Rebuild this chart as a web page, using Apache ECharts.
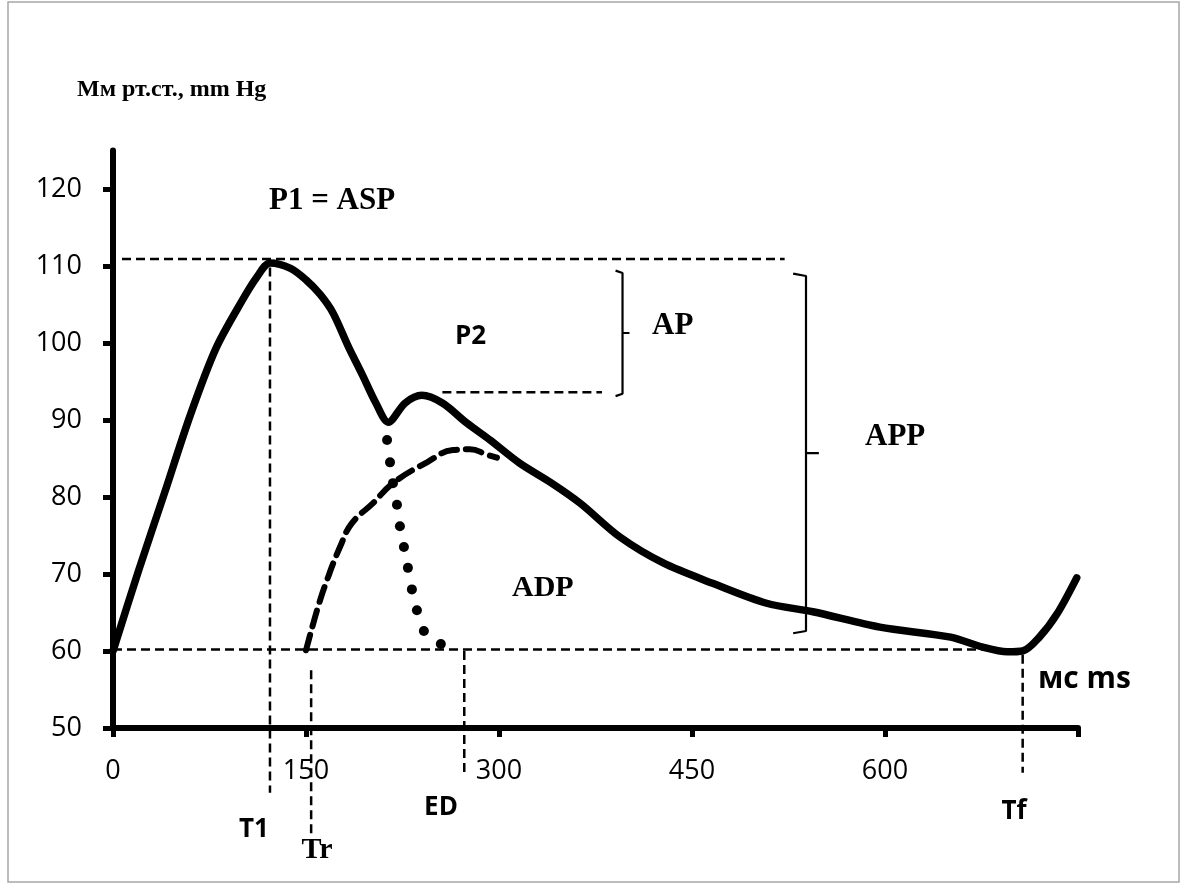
<!DOCTYPE html>
<html>
<head>
<meta charset="utf-8">
<script src="https://cdn.jsdelivr.net/npm/echarts@6/dist/echarts.min.js"></script>
<style>
  html, body { margin: 0; padding: 0; background: #fff; }
  #chart { width: 1187px; height: 888px; }
</style>
</head>
<body>
<div id="chart"></div>
<script>
// Aortic pressure waveform, time in ms, pressure in mm Hg
const pulseTime     = [0, 20, 40, 60, 80, 100, 112, 122, 138, 150, 161, 171, 183, 194, 204, 214, 227, 240, 256, 275, 293, 316, 340, 363, 394, 428, 466, 508, 544, 596, 651, 676, 695, 707, 720, 734, 749];
const pulsePressure = [60, 70.5, 80.5, 90.6, 99.3, 105.4, 108.6, 110.4, 109.7, 108.2, 106.3, 103.9, 99.5, 95.8, 92.3, 89.7, 92.2, 93.2, 92.2, 89.6, 87.4, 84.4, 81.9, 79.2, 74.8, 71.4, 68.8, 66.2, 65.1, 63.1, 61.8, 60.5, 59.9, 60, 61.8, 64.9, 69.5];

// Reflected (late) wave component
const reflectedTime     = [150, 159.3, 166.3, 176.4, 185.7, 202.1, 217.6, 244, 264.2, 277.5, 290.7, 298.4];
const reflectedPressure = [60.1, 65.7, 69.2, 73.5, 76.6, 79.2, 81.8, 84.5, 86.1, 86.2, 85.5, 85.1];

// Incident wave decay after the inflection point
const incidentTime     = [213, 215.3, 217.6, 220.7, 223, 226.1, 229.2, 232.3, 236.2, 241.6, 254.8];
const incidentPressure = [87.4, 84.5, 81.8, 79, 76.2, 73.5, 70.8, 68, 65.3, 62.6, 60.9];

// Axis ticks and labels
const xTickValues  = [0, 150, 300, 450, 600, 750];
const xLabelValues = [0, 150, 300, 450, 600];
const yTickValues  = [50, 60, 70, 80, 90, 100, 110, 120];

// Characteristic time points: T1, Tr, ED, Tf  [time, upper pressure, lower pressure]
const timeMarkers = [
  [122, 109.8, 41.6],
  [154, 57.5, 35.7],
  [273, 60, 43.8],
  [707, 59.5, 44.2]
];

// Horizontal guide levels [pressure, from time, to time]
const levelGuides = [
  [110.9, 7, 522],
  [93.6, 256, 380],
  [60.2, 0, 678]
];

// Pressure brackets [time, top, middle, bottom, hook length]
const brackets = [
  [396, 109.4, 101.3, 93.1, 5.4],
  [538.6, 109, 85.7, 62.3, 10]
];

const pairs = (xs, ys) => xs.map((x, i) => [x, ys[i]]);

const dashStyle = { color: '#000', width: 2.5, type: [9, 5] };

const series = [];

levelGuides.forEach(g => {
  series.push({
    type: 'line', data: [[g[1], g[0]], [g[2], g[0]]],
    symbol: 'none', silent: true, clip: false, z: 2,
    lineStyle: dashStyle
  });
});

timeMarkers.forEach(m => {
  series.push({
    type: 'line', data: [[m[0], m[1]], [m[0], m[2]]],
    symbol: 'none', silent: true, clip: false, z: 2,
    lineStyle: dashStyle
  });
});

brackets.forEach(b => {
  const [t, top, mid, bot, h] = b;
  series.push({
    type: 'line',
    data: [[t - h, top], [t, top - 0.3], [t, mid], [t + h, mid], [t, mid], [t, bot + 0.3], [t - h, bot]],
    symbol: 'none', silent: true, clip: false, z: 2,
    lineStyle: { color: '#000', width: 2.2 }
  });
});

series.push({
  type: 'line', data: pairs(reflectedTime, reflectedPressure),
  smooth: 0.45, symbol: 'none', silent: true, z: 3,
  lineStyle: { color: '#000', width: 6, type: [16, 9], cap: 'round' }
});

series.push({
  type: 'scatter', data: pairs(incidentTime, incidentPressure),
  symbol: 'circle', symbolSize: 10, silent: true, z: 3,
  itemStyle: { color: '#000', opacity: 1 }
});

series.push({
  type: 'line', data: pairs(pulseTime, pulsePressure),
  smooth: 0.3, symbol: 'none', silent: true, z: 5,
  lineStyle: { color: '#000', width: 7.5, cap: 'round', join: 'round' }
});

const sans = '"Open Sans", "DejaVu Sans", sans-serif';
const serif = '"Liberation Serif", "DejaVu Serif", serif';

function label(text, x, y, font, align) {
  return {
    type: 'text', x: x, y: y, silent: true, z: 10,
    style: {
      text: text, font: font, fill: '#000',
      align: align || 'left', verticalAlign: 'middle',
      textAlign: align || 'left', textVerticalAlign: 'middle'
    }
  };
}

const chart = echarts.init(document.getElementById('chart'), null, { renderer: 'canvas' });
chart.setOption({
  animation: false,
  backgroundColor: '#fff',
  grid: { left: 113, right: 109, top: 150.5, bottom: 160, containLabel: false },
  xAxis: {
    type: 'value', min: 0, max: 750, interval: 150,
    axisLine: { show: true, lineStyle: { color: '#000', width: 6 } },
    axisTick: { show: true, length: 9, customValues: xTickValues, lineStyle: { color: '#000', width: 5 } },
    axisLabel: { customValues: xLabelValues, fontSize: 27, fontFamily: sans, color: '#000', margin: 30 },
    splitLine: { show: false }
  },
  yAxis: {
    type: 'value', min: 50, max: 125, interval: 10,
    axisLine: { show: true, lineStyle: { color: '#000', width: 6 } },
    axisTick: { show: true, length: 10, customValues: yTickValues, lineStyle: { color: '#000', width: 5 } },
    axisLabel: { customValues: yTickValues, fontSize: 27, fontFamily: sans, color: '#000', margin: 31 },
    splitLine: { show: false }
  },
  series: series,
  graphic: [
    { type: 'rect', silent: true, z: 0,
      shape: { x: 8, y: 2, width: 1171, height: 880 },
      style: { fill: 'none', stroke: '#a6a6a6', lineWidth: 1.5 } },
    label('Мм рт.ст., mm Hg', 77, 90, 'bold 24px ' + serif),
    label('P1 = ASP', 269, 201, 'bold 31px ' + serif),
    label('P2', 455, 337, 'bold 26px ' + sans),
    label('AP', 652, 326, 'bold 31px ' + serif),
    label('APP', 865, 437, 'bold 31px ' + serif),
    label('ADP', 512, 588, 'bold 30px ' + serif),
    label('T1', 254, 830, 'bold 26px ' + sans, 'center'),
    label('Tr', 317, 850, 'bold 30px ' + serif, 'center'),
    label('ED', 441, 808, 'bold 26px ' + sans, 'center'),
    label('Tf', 1014, 812, 'bold 26px ' + sans, 'center'),
    label('мс ms', 1038, 679, 'bold 30px ' + sans)
  ]
});
</script>
</body>
</html>
